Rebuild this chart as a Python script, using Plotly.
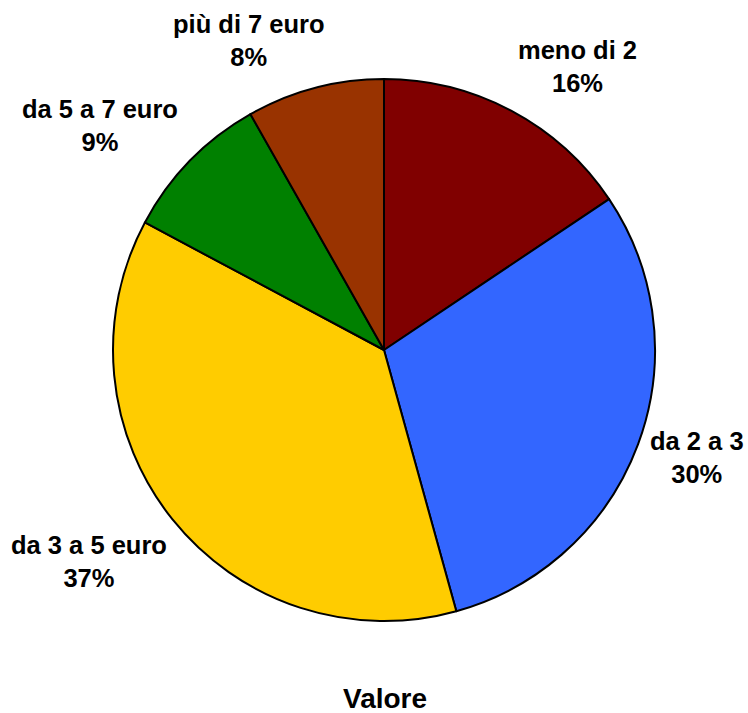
import plotly.graph_objects as go

categories = ["meno di 2", "da 2 a 3", "da 3 a 5 euro", "da 5 a 7 euro", "più di 7 euro"]
values = [15.6, 30.1, 37.1, 9.0, 8.2]
colors = ["#800000", "#3366FF", "#FFCC00", "#008000", "#993300"]
# label centre positions (pixels) in the 748x713 window
label_px = [(577, 66), (697, 457), (89, 561), (100, 126), (249, 40)]

W, H = 748, 713
total = sum(values)


def px2paper(px, py):
    return px / W, 1 - py / H


cx, cy, r = 384, 350, 271
x0, y1 = px2paper(cx - r, cy - r)
x1, y0 = px2paper(cx + r, cy + r)

fig = go.Figure(go.Pie(
    labels=categories,
    values=values,
    sort=False,
    direction="clockwise",
    rotation=0,
    marker=dict(colors=colors, line=dict(color="black", width=2)),
    textinfo="none",
    hoverinfo="label+percent",
    showlegend=False,
    domain=dict(x=[x0, x1], y=[y0, y1]),
))

font = dict(family="Liberation Sans, Arial, sans-serif", size=25.5, color="black")
for cat, v, (px, py) in zip(categories, values, label_px):
    pct = round(100 * v / total)
    ax, ay = px2paper(px, py)
    fig.add_annotation(
        x=ax, y=ay, xref="paper", yref="paper",
        text=f"<b>{cat}<br>{pct}%</b>", showarrow=False,
        xanchor="center", yanchor="middle", font=font, align="center",
    )

tx, ty = px2paper(385, 698)
fig.add_annotation(
    x=tx, y=ty, xref="paper", yref="paper",
    text="<b>Valore</b>", showarrow=False, xanchor="center", yanchor="middle",
    font=dict(family="Liberation Sans, Arial, sans-serif", size=28, color="black"),
    borderpad=0,
)

fig.update_layout(
    width=W, height=H,
    margin=dict(l=0, r=0, t=0, b=0),
    paper_bgcolor="white", plot_bgcolor="white",
)

fig.write_html(
    "out.html",
    config={"displayModeBar": False},
    post_script="document.body.style.margin='0';document.body.style.overflow='hidden';",
)
